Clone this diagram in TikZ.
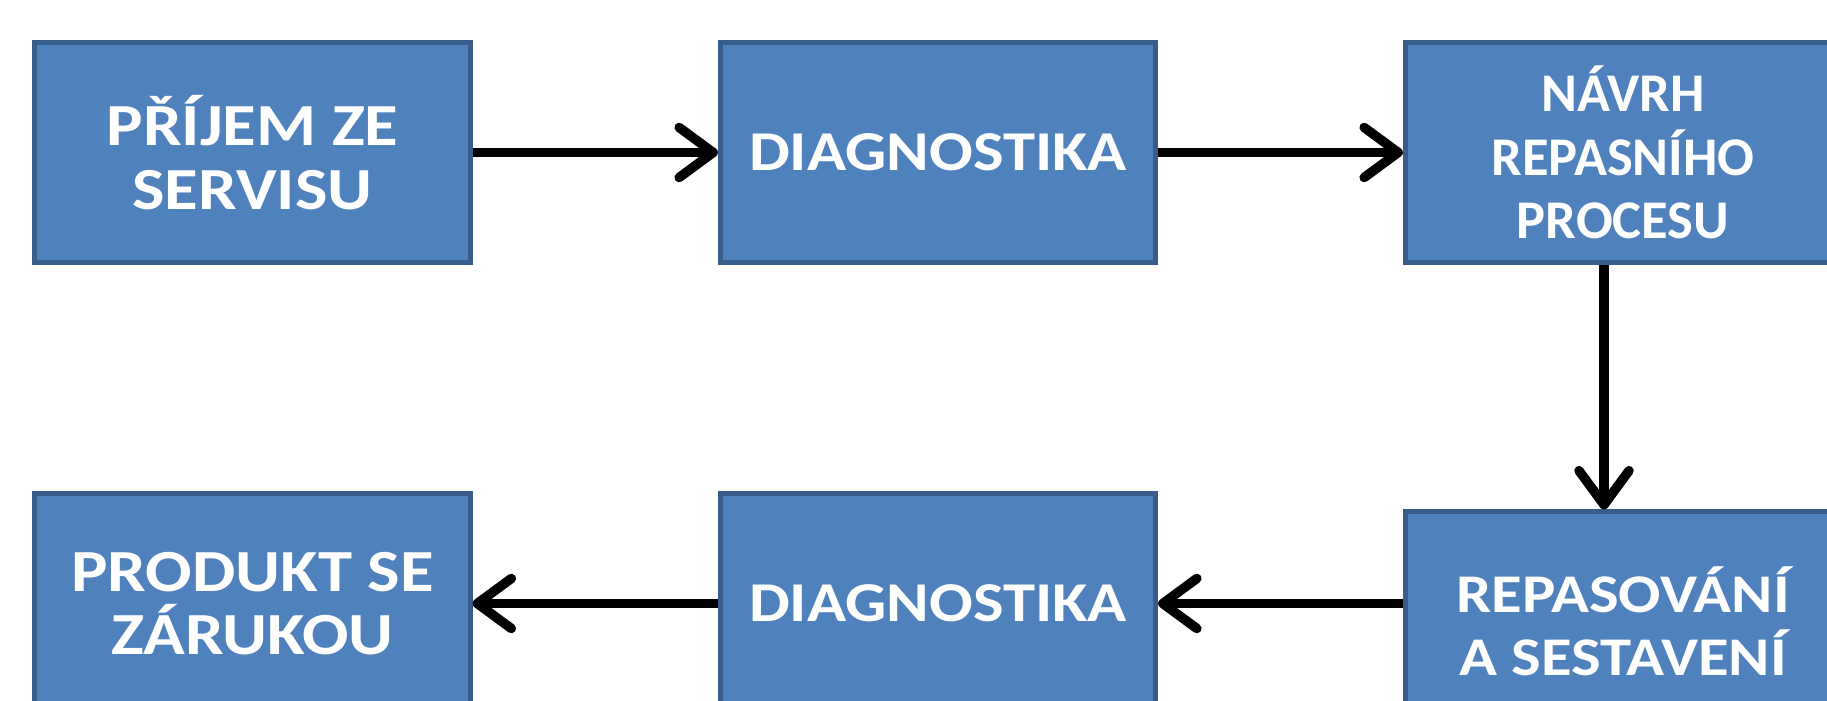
\documentclass[tikz,border=0pt]{standalone}
\usepackage{fontspec}
\setmainfont{Carlito}
\newfontfamily\widefont{Carlito}[FakeStretch=1.15]
\usetikzlibrary{arrows.meta}

\definecolor{boxfill}{HTML}{4F81BD}
\definecolor{boxline}{HTML}{385D8A}

\tikzset{
  box/.style={draw=boxline, fill=boxfill, line width=1.4pt, text=white,
    minimum width=4.35cm, minimum height=2.19cm, inner sep=0pt, align=center},
  bigbold/.style={font=\widefont\bfseries\fontsize{17}{18}\selectfont},
  widebold/.style={font=\widefont\bfseries\fontsize{16}{18}\selectfont},
  smallbold/.style={font=\widefont\bfseries\fontsize{15.5}{18}\selectfont},
  narrowbold/.style={font=\bfseries\fontsize{15.5}{18}\selectfont},
  flow/.style={line width=2.7pt, -{Straight Barb[length=0.34cm, width=0.5cm, round]}}
}

\begin{document}
\begin{tikzpicture}[x=0.01cm, y=-0.01cm]
  \useasboundingbox (0,0) rectangle (1827,701);
  \clip (0,0) rectangle (1827,701);

  \def \Boxes {
    b1/252.5/152.5/bigbold/{PŘÍJEM ZE\\SERVISU},
    b2/938/152.5/widebold/{DIAGNOSTIKA},
    b3/1623/152.5/narrowbold/{NÁVRH\\REPASNÍHO\\PROCESU},
    b4/252.5/603.5/bigbold/{PRODUKT SE\\ZÁRUKOU},
    b5/938/603.5/widebold/{DIAGNOSTIKA},
    b6/1623/621.5/smallbold/{REPASOVÁNÍ\\A SESTAVENÍ}}

  \foreach \id / \x / \y / \st / \txt in \Boxes {
    \node[box, \st] (\id) at (\x, \y) {\txt};
  }

  \coordinate (vx) at (1604, 0);
  \draw[flow] (b1.east) -- (b2.west);
  \draw[flow] (b2.east) -- (b3.west);
  \draw[flow] (b3.south -| vx) -- (b6.north -| vx);
  \draw[flow] (b6.west |- b5.east) -- (b5.east);
  \draw[flow] (b5.west) -- (b4.east);
\end{tikzpicture}
\end{document}
